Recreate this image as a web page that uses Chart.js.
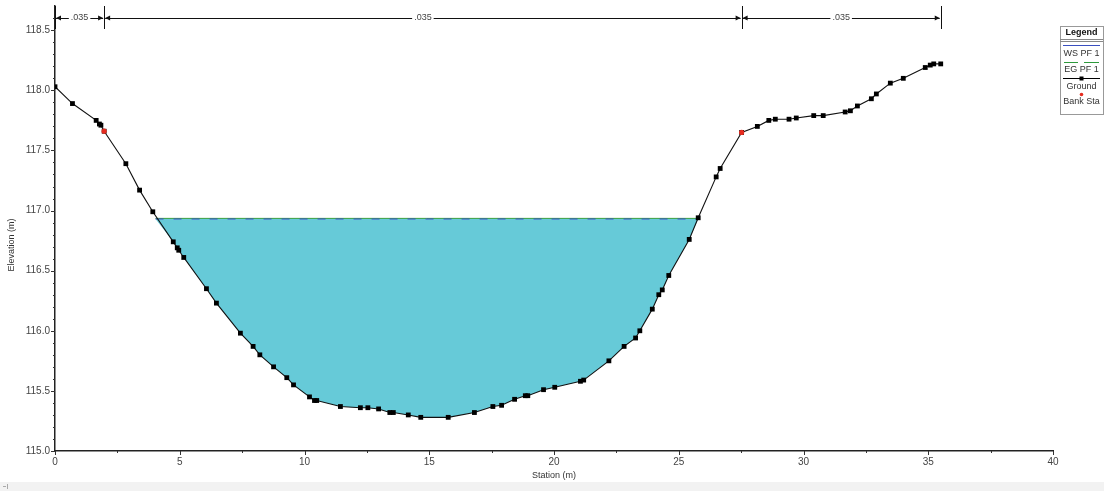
<!DOCTYPE html>
<html>
<head>
<meta charset="utf-8">
<script src="https://cdn.jsdelivr.net/npm/chart.js@4/dist/chart.umd.min.js"></script>
<style>
  html, body { margin: 0; padding: 0; background: #fff; }
  #wrap { width: 1104px; height: 491px; }
</style>
</head>
<body>
<div id="wrap"><canvas id="xs" width="1104" height="491"></canvas></div>
<script>
// Ground profile (station m, elevation m)
const groundSta = [0, 0.70, 1.65, 1.78, 1.84, 1.97, 2.84, 3.39, 3.92, 4.74, 4.90, 4.96, 5.16, 6.07, 6.47,
  7.43, 7.94, 8.21, 8.76, 9.29, 9.56, 10.20, 10.40, 10.49, 11.44, 12.24, 12.54, 12.97, 13.42, 13.56,
  14.16, 14.66, 15.76, 16.81, 17.55, 17.90, 18.42, 18.85, 18.95, 19.58, 20.03, 21.06, 21.19, 22.20,
  22.81, 23.27, 23.44, 23.94, 24.20, 24.34, 24.60, 25.42, 25.78, 26.50, 26.66, 27.52, 28.15, 28.61,
  28.87, 29.42, 29.71, 30.41, 30.79, 31.67, 31.88, 32.16, 32.72, 32.92, 33.48, 34.00, 34.88, 35.08,
  35.22, 35.50];
const groundElev = [118.03, 117.89, 117.75, 117.72, 117.71, 117.66, 117.39, 117.17, 116.99, 116.74, 116.69,
  116.67, 116.61, 116.35, 116.23, 115.98, 115.87, 115.80, 115.70, 115.61, 115.55, 115.45, 115.42, 115.42,
  115.37, 115.36, 115.36, 115.35, 115.32, 115.32, 115.30, 115.28, 115.28, 115.32, 115.37, 115.38, 115.43,
  115.46, 115.46, 115.51, 115.53, 115.58, 115.59, 115.75, 115.87, 115.94, 116.00, 116.18, 116.30, 116.34,
  116.46, 116.76, 116.94, 117.28, 117.35, 117.65, 117.70, 117.75, 117.76, 117.76, 117.77, 117.79, 117.79,
  117.82, 117.83, 117.87, 117.93, 117.97, 118.06, 118.10, 118.19, 118.21, 118.22, 118.22];

// Bank stations
const bankSta = [1.97, 27.52];
const bankElev = [117.66, 117.65];

// Water surface / energy grade
const wsElev = 116.93;
const egElev = 116.935;
const wsEdges = [4.03, 25.78];

// Manning's n regions
const nBounds = [0, 1.97, 27.52, 35.5];
const nValues = [".035", ".035", ".035"];

// Axis ticks
const xTicks = [0, 5, 10, 15, 20, 25, 30, 35, 40];
const yTicks = [115.0, 115.5, 116.0, 116.5, 117.0, 117.5, 118.0, 118.5];

const groundPts = groundSta.map((s, i) => ({ x: s, y: groundElev[i] }));
const bankPts = bankSta.map((s, i) => ({ x: s, y: bankElev[i] }));
const waterPts = [{ x: wsEdges[0], y: wsElev }]
  .concat(groundPts.filter(p => p.x > wsEdges[0] && p.x < wsEdges[1]))
  .concat([{ x: wsEdges[1], y: wsElev }]);

const FONT = "'Liberation Sans', Arial, sans-serif";

const decor = {
  id: "decor",
  afterDraw(chart) {
    const ctx = chart.ctx;
    const xs = chart.scales.x, ys = chart.scales.y;
    const a = chart.chartArea;
    ctx.save();

    // axis line up to the top of the frame
    ctx.strokeStyle = "#222";
    ctx.lineWidth = 1.5;
    ctx.beginPath();
    ctx.moveTo(a.left - 0.25, 5);
    ctx.lineTo(a.left - 0.25, a.top);
    ctx.stroke();

    // minor / major tick marks
    ctx.strokeStyle = "#333";
    ctx.lineWidth = 1;
    for (let v = 115; v <= 118.65; v += 0.1) {
      const y = Math.round(ys.getPixelForValue(v)) + 0.5;
      const major = Math.abs(v * 2 - Math.round(v * 2)) < 1e-6;
      ctx.beginPath();
      ctx.moveTo(a.left - (major ? 4 : 2), y);
      ctx.lineTo(a.left, y);
      ctx.stroke();
    }
    for (let v = 0; v <= 40; v += 2.5) {
      const x = Math.round(xs.getPixelForValue(v)) + 0.5;
      const major = v % 5 === 0;
      ctx.beginPath();
      ctx.moveTo(x, a.bottom);
      ctx.lineTo(x, a.bottom + (major ? 4 : 2));
      ctx.stroke();
    }

    // axis titles
    ctx.fillStyle = "#333";
    ctx.font = "9px " + FONT;
    ctx.textAlign = "center";
    ctx.textBaseline = "middle";
    ctx.fillText("Station (m)", (a.left + a.right) / 2, 476);
    ctx.save();
    ctx.translate(12, 245);
    ctx.rotate(-Math.PI / 2);
    ctx.fillText("Elevation (m)", 0, 0);
    ctx.restore();

    // n-value annotations along the top
    const ny = 18;
    ctx.strokeStyle = "#111";
    ctx.fillStyle = "#111";
    nBounds.forEach(b => {
      const x = Math.round(xs.getPixelForValue(b)) + 0.5;
      ctx.beginPath();
      ctx.moveTo(x, 6);
      ctx.lineTo(x, 29);
      ctx.stroke();
    });
    const arrow = (x, dir) => {
      ctx.beginPath();
      ctx.moveTo(x, ny);
      ctx.lineTo(x + dir * 5, ny - 2.5);
      ctx.lineTo(x + dir * 5, ny + 2.5);
      ctx.closePath();
      ctx.fill();
    };
    nValues.forEach((n, i) => {
      const x1 = xs.getPixelForValue(nBounds[i]) + 1;
      const x2 = xs.getPixelForValue(nBounds[i + 1]) - 1;
      const mid = (x1 + x2) / 2;
      ctx.font = "9px " + FONT;
      const w = ctx.measureText(n).width + 4;
      ctx.beginPath();
      ctx.moveTo(x1, ny + 0.5);
      ctx.lineTo(mid - w / 2, ny + 0.5);
      ctx.moveTo(mid + w / 2, ny + 0.5);
      ctx.lineTo(x2, ny + 0.5);
      ctx.stroke();
      arrow(x1, 1);
      arrow(x2, -1);
      ctx.fillStyle = "#444";
      ctx.fillText(n, mid, ny);
      ctx.fillStyle = "#111";
    });

    // legend box
    const lx = 1060, lw = 43, ly = 26, lh = 88;
    const cx = lx + lw / 2;
    ctx.fillStyle = "#fff";
    ctx.fillRect(lx, ly, lw, lh);
    ctx.strokeStyle = "#999";
    ctx.strokeRect(lx + 0.5, ly + 0.5, lw, lh);
    ctx.fillStyle = "#111";
    ctx.font = "bold 9px " + FONT;
    ctx.fillText("Legend", cx, 33);
    ctx.strokeStyle = "#888";
    ctx.beginPath();
    ctx.moveTo(lx, 39.5); ctx.lineTo(lx + lw, 39.5);
    ctx.moveTo(lx, 41.5); ctx.lineTo(lx + lw, 41.5);
    ctx.stroke();
    ctx.font = "9px " + FONT;
    ctx.fillStyle = "#333";
    // WS
    ctx.strokeStyle = "#3a4fc0";
    ctx.beginPath(); ctx.moveTo(lx + 3, 45.5); ctx.lineTo(lx + lw - 3, 45.5); ctx.stroke();
    ctx.fillText("WS PF 1", cx, 54);
    // EG
    ctx.strokeStyle = "#2e9a3c";
    ctx.beginPath();
    ctx.moveTo(lx + 4, 62.5); ctx.lineTo(lx + 18, 62.5);
    ctx.moveTo(lx + 24, 62.5); ctx.lineTo(lx + lw - 4, 62.5);
    ctx.stroke();
    ctx.fillText("EG PF 1", cx, 70);
    // Ground
    ctx.strokeStyle = "#000";
    ctx.beginPath(); ctx.moveTo(lx + 3, 78.5); ctx.lineTo(lx + lw - 3, 78.5); ctx.stroke();
    ctx.fillStyle = "#000";
    ctx.fillRect(cx - 2, 76.5, 4, 4);
    ctx.fillStyle = "#333";
    ctx.fillText("Ground", cx, 87);
    // Bank sta
    ctx.fillStyle = "#e52b1f";
    ctx.beginPath(); ctx.arc(cx, 94.5, 1.8, 0, Math.PI * 2); ctx.fill();
    ctx.fillStyle = "#333";
    ctx.fillText("Bank Sta", cx, 102);

    // bottom status strip
    ctx.fillStyle = "#f2f2f2";
    ctx.fillRect(0, 482, 1104, 9);
    ctx.fillStyle = "#aaa";
    ctx.fillRect(7, 484, 1, 5);
    ctx.fillRect(3, 486, 3, 1);

    ctx.restore();
  }
};

new Chart(document.getElementById("xs"), {
  type: "scatter",
  data: {
    datasets: [
      {
        label: "Bank Sta",
        data: bankPts,
        showLine: false,
        pointStyle: "circle",
        pointRadius: 2.6,
        pointBackgroundColor: "#e52b1f",
        pointBorderWidth: 0,
        order: 0
      },
      {
        label: "Ground",
        data: groundPts,
        showLine: true,
        borderColor: "#111",
        borderWidth: 1.1,
        pointStyle: "rect",
        pointRadius: 3.4,
        pointBackgroundColor: "#000",
        pointBorderWidth: 0,
        order: 1
      },
      {
        label: "WS PF 1",
        data: [{ x: wsEdges[0], y: wsElev }, { x: wsEdges[1], y: wsElev }],
        showLine: true,
        borderColor: "#3a4fc0",
        borderWidth: 1,
        borderDash: [8, 10],
        pointRadius: 0,
        order: 2
      },
      {
        label: "EG PF 1",
        data: [{ x: wsEdges[0], y: egElev }, { x: wsEdges[1], y: egElev }],
        showLine: true,
        borderColor: "#2e9a3c",
        borderWidth: 1,
        pointRadius: 0,
        order: 3
      },
      {
        label: "water",
        data: waterPts,
        showLine: true,
        borderWidth: 0,
        borderColor: "rgba(0,0,0,0)",
        backgroundColor: "rgb(102,202,216)",
        fill: { value: wsElev },
        pointRadius: 0,
        order: 4
      }
    ]
  },
  options: {
    responsive: false,
    animation: false,
    events: [],
    layout: { padding: { left: 0, right: 51, top: 5, bottom: 0 } },
    plugins: {
      legend: { display: false },
      tooltip: { enabled: false },
      filler: { propagate: false }
    },
    scales: {
      x: {
        type: "linear",
        min: 0,
        max: 40,
        afterFit: s => { s.height = 40; },
        afterBuildTicks: s => { s.ticks = xTicks.map(v => ({ value: v })); },
        grid: { display: false, drawTicks: false },
        border: { display: true, color: "#222", width: 1.5 },
        ticks: {
          padding: 5,
          color: "#444",
          font: { family: FONT, size: 10 },
          maxRotation: 0,
          autoSkip: false
        }
      },
      y: {
        type: "linear",
        min: 115,
        max: 118.66,
        afterFit: s => { s.width = 55; },
        afterBuildTicks: s => { s.ticks = yTicks.map(v => ({ value: v })); },
        grid: { display: false, drawTicks: false },
        border: { display: true, color: "#222", width: 1.5 },
        ticks: {
          padding: 5,
          color: "#444",
          font: { family: FONT, size: 10 },
          autoSkip: false,
          callback: v => v.toFixed(1)
        }
      }
    }
  },
  plugins: [decor]
});
</script>
</body>
</html>
